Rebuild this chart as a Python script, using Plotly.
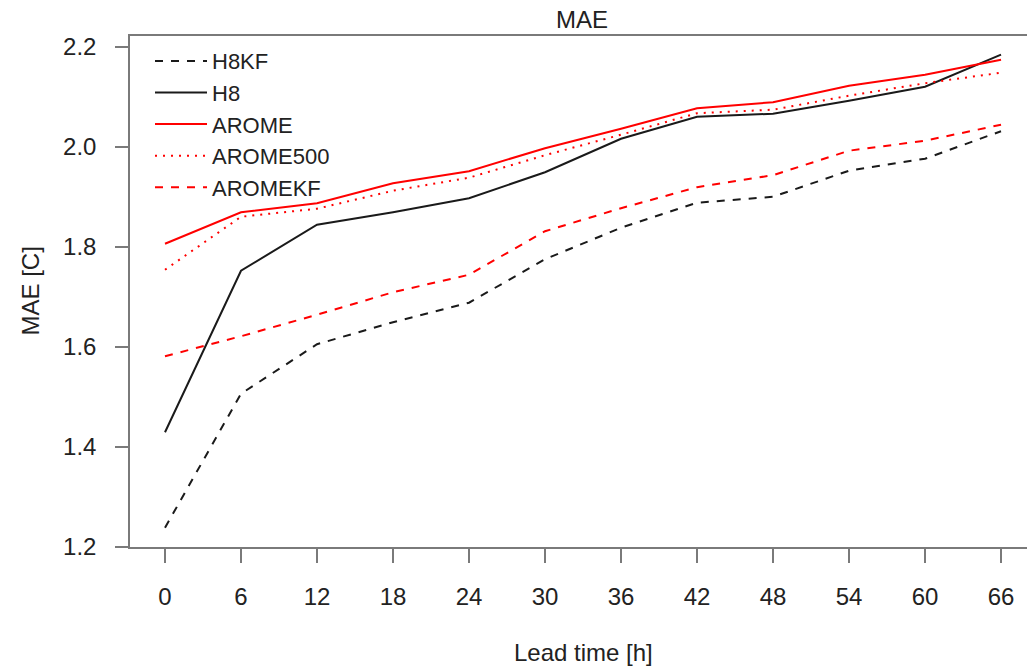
import plotly.graph_objects as go

lead_time = [0, 6, 12, 18, 24, 30, 36, 42, 48, 54, 60, 66]
h8kf = [1.238, 1.506, 1.605, 1.649, 1.688, 1.775, 1.838, 1.888, 1.900, 1.952, 1.976, 2.031]
h8 = [1.429, 1.752, 1.844, 1.869, 1.897, 1.949, 2.016, 2.060, 2.066, 2.092, 2.120, 2.184]
arome = [1.806, 1.869, 1.887, 1.927, 1.951, 1.997, 2.036, 2.077, 2.089, 2.122, 2.144, 2.174]
arome500 = [1.754, 1.860, 1.876, 1.912, 1.938, 1.983, 2.024, 2.067, 2.074, 2.102, 2.127, 2.148]
aromekf = [1.581, 1.621, 1.664, 1.709, 1.744, 1.831, 1.877, 1.919, 1.943, 1.992, 2.012, 2.044]
y_ticks = [1.2, 1.4, 1.6, 1.8, 2.0, 2.2]

FONT = "Liberation Sans, Arial, Helvetica, sans-serif"
TXT = "#222222"
AX = "#7a7a7a"
FS = 24

series = [
    ("H8KF", h8kf, "#1a1a1a", "8px,8px"),
    ("H8", h8, "#1a1a1a", "solid"),
    ("AROME", arome, "#ff0000", "solid"),
    ("AROME500", arome500, "#ff0000", "2px,6px"),
    ("AROMEKF", aromekf, "#ff0000", "8px,8px"),
]

fig = go.Figure()
for name, vals, col, dash in series:
    fig.add_trace(go.Scatter(x=lead_time, y=vals, name=name, mode="lines",
                             line=dict(color=col, width=2, dash=dash)))

fig.update_layout(
    width=1027, height=666,
    margin=dict(l=130, r=0, t=36, b=119),
    paper_bgcolor="white", plot_bgcolor="white",
    font=dict(family=FONT, size=FS, color=TXT),
    title=dict(text="MAE", x=582 / 1027, xanchor="center", xref="container",
               y=1 - 20 / 666, yanchor="middle", yref="container",
               font=dict(size=FS, color=TXT)),
    showlegend=True,
    legend=dict(x=(150 - 130) / 897, y=0.992, xanchor="left", yanchor="top",
                bgcolor="rgba(0,0,0,0)", borderwidth=0, itemwidth=52,
                font=dict(size=22, color=TXT), tracegroupgap=0),
    xaxis=dict(range=[-2.763, 68.05], tickvals=lead_time,
               ticktext=[str(v) for v in lead_time],
               showgrid=False, zeroline=False, showline=True, linecolor=AX,
               linewidth=1.5, mirror=True, ticks="outside", ticklen=14,
               tickcolor=AX, tickwidth=1.5, ticklabelstandoff=13,
               tickfont=dict(size=FS, color=TXT)),
    yaxis=dict(range=[1.1995, 2.2214], tickvals=y_ticks,
               ticktext=[f"{v:.1f}" for v in y_ticks],
               showgrid=False, zeroline=False, showline=True, linecolor=AX,
               linewidth=1.5, mirror=False, ticks="outside", ticklen=13,
               tickcolor=AX, tickwidth=1.5, ticklabelstandoff=14,
               tickfont=dict(size=FS, color=TXT)),
    annotations=[
        dict(text="Lead time [h]", xref="paper", yref="paper",
             x=(583 - 130) / 897, y=-(652 - 547) / 511, xanchor="center",
             yanchor="middle", showarrow=False, font=dict(size=FS, color=TXT)),
        dict(text="MAE [C]", xref="paper", yref="paper",
             x=-(130 - 30) / 897, y=0.5, xanchor="center", yanchor="middle",
             textangle=-90, showarrow=False, font=dict(size=FS, color=TXT)),
    ],
)

fig.write_html("out.html")
